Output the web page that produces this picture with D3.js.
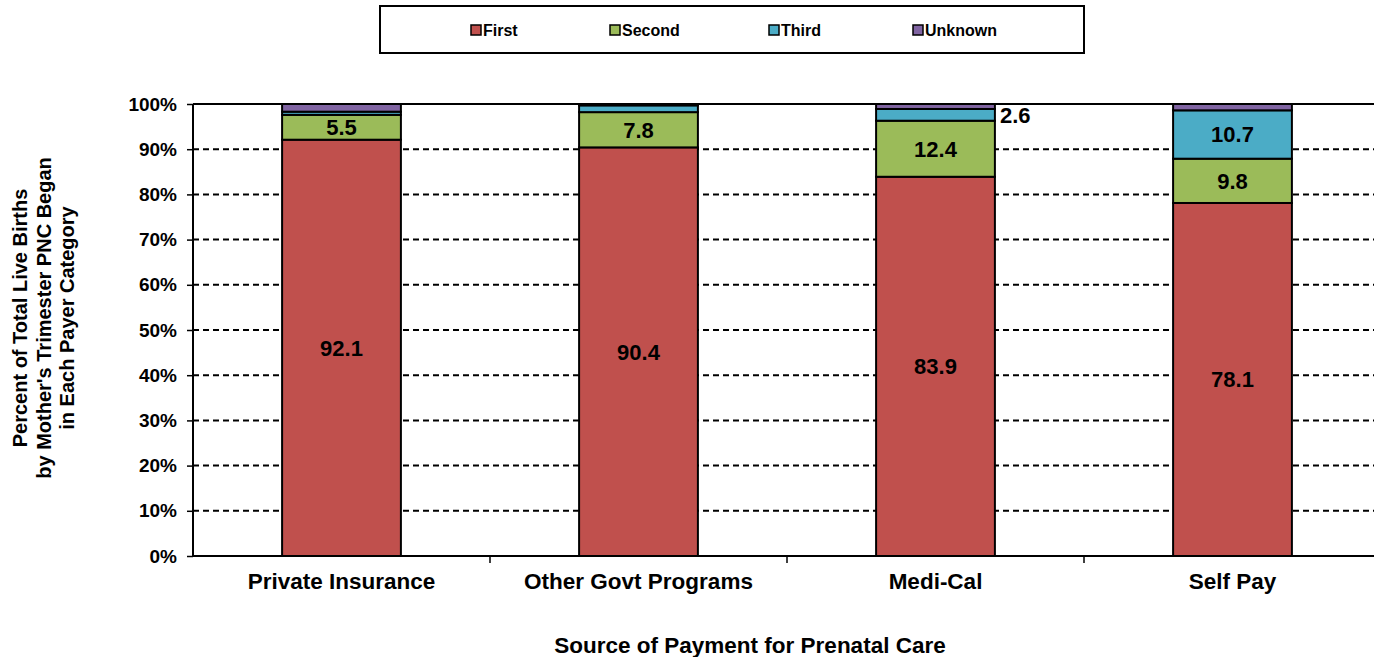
<!doctype html>
<html>
<head>
  <meta charset="utf-8">
  <title>Trimester PNC Began by Payer</title>
  <script src="https://cdn.jsdelivr.net/npm/d3@7"></script>
  <style>
    body { margin: 0; background: #fff; }
    text { font-family: "Liberation Sans", Arial, sans-serif; font-weight: bold; fill: #000; }
  </style>
</head>
<body>
<div class="chart"></div>
<script>
// data
var categories = ["Private Insurance", "Other Govt Programs", "Medi-Cal", "Self Pay"];
var seriesNames = ["First", "Second", "Third", "Unknown"];
var first   = [92.1, 90.4, 83.9, 78.1];
var second  = [5.5, 7.8, 12.4, 9.8];
var third   = [0.7, 1.5, 2.6, 10.7];
var unknown = [1.7, 0.3, 1.1, 1.4];
var yTicks = [0, 10, 20, 30, 40, 50, 60, 70, 80, 90, 100];
// which values get a printed label (1 = inside, 2 = beside the bar)
var labelled = { First: [1, 1, 1, 1], Second: [1, 1, 1, 1], Third: [0, 0, 2, 1], Unknown: [0, 0, 0, 0] };

var colors = ["#C0504D", "#9BBB59", "#4BACC6", "#8064A2"];

function draw() {
  var W = 1374, H = 657;
  var mLeft = 193, mRight = 1381, mTop = 104, mBottom = 556;

  var svg = d3.select(".chart").append("svg")
      .attr("width", W).attr("height", H);

  var rows = categories.map(function(c, i) {
    return { cat: c, First: first[i], Second: second[i], Third: third[i], Unknown: unknown[i] };
  });
  var stack = d3.stack().keys(seriesNames)(rows);

  var x = d3.scaleBand().domain(categories).range([mLeft, mRight]).paddingInner(0.6).paddingOuter(0.3);
  var band = d3.scaleBand().domain(categories).range([mLeft, mRight]);
  var y = d3.scaleLinear().domain([0, 100]).range([mBottom, mTop]);

  // gridlines
  svg.append("g").selectAll("line")
    .data(yTicks.filter(function(t) { return t > 0 && t < 100; }))
    .join("line")
    .attr("x1", mLeft).attr("x2", W)
    .attr("y1", function(d) { return y(d); }).attr("y2", function(d) { return y(d); })
    .attr("stroke", "#000").attr("stroke-width", 2).attr("stroke-dasharray", "6,4");
  svg.append("line")
    .attr("x1", mLeft).attr("x2", W).attr("y1", y(100)).attr("y2", y(100))
    .attr("stroke", "#000").attr("stroke-width", 2);

  // bars
  svg.append("g").selectAll("g")
    .data(stack).join("g")
    .attr("fill", function(d, i) { return colors[i]; })
    .selectAll("rect")
    .data(function(d) { return d; })
    .join("rect")
    .attr("x", function(d) { return x(d.data.cat); })
    .attr("width", x.bandwidth())
    .attr("y", function(d) { return y(d[1]); })
    .attr("height", function(d) { return y(d[0]) - y(d[1]); })
    .attr("stroke", "#000").attr("stroke-width", 2);

  // value labels
  stack.forEach(function(s) {
    s.forEach(function(d, i) {
      var mode = labelled[s.key][i];
      if (!mode) return;
      var val = d[1] - d[0];
      var cy = y((d[0] + d[1]) / 2);
      var t = svg.append("text")
        .attr("y", cy).attr("dy", "0.36em")
        .style("font-size", "22px")
        .text(val.toFixed(1));
      if (mode === 2) {
        t.attr("x", x(d.data.cat) + x.bandwidth() + 5).attr("text-anchor", "start");
      } else {
        t.attr("x", x(d.data.cat) + x.bandwidth() / 2).attr("text-anchor", "middle");
      }
    });
  });

  // y axis
  var yAxis = svg.append("g")
    .attr("transform", "translate(" + mLeft + ",0)")
    .call(d3.axisLeft(y).tickValues(yTicks).tickSize(6).tickPadding(10)
      .tickFormat(function(d) { return d + "%"; }));
  yAxis.select(".domain").attr("stroke-width", 2).attr("d", "M0," + mBottom + "V" + mTop);
  yAxis.selectAll(".tick line").attr("stroke-width", 1.5);
  yAxis.selectAll("text").attr("font-size", null).attr("font-family", null)
    .style("font-size", "19px");

  // x axis
  var xAxis = svg.append("g")
    .attr("transform", "translate(0," + mBottom + ")")
    .call(d3.axisBottom(band).tickSize(0).tickPadding(17));
  xAxis.select(".domain").attr("stroke-width", 2).attr("d", "M" + mLeft + ",0H" + W);
  xAxis.selectAll("text").attr("font-size", null).attr("font-family", null)
    .style("font-size", "22.5px");
  svg.append("g").selectAll("line")
    .data(categories.slice(1))
    .join("line")
    .attr("x1", function(d) { return band(d); }).attr("x2", function(d) { return band(d); })
    .attr("y1", mBottom).attr("y2", mBottom + 7)
    .attr("stroke", "#000").attr("stroke-width", 1.5);

  // axis titles
  svg.append("text")
    .attr("x", 750).attr("y", 645).attr("dy", "0.36em")
    .attr("text-anchor", "middle").style("font-size", "22.5px")
    .text("Source of Payment for Prenatal Care");

  var yTitle = ["Percent of Total Live Births", "by Mother's Trimester PNC Began", "in Each Payer Category"];
  svg.append("g").attr("transform", "translate(20,318) rotate(-90)")
    .selectAll("text").data(yTitle).join("text")
    .attr("x", 0).attr("y", function(d, i) { return i * 23.5; })
    .attr("dy", "0.36em").attr("text-anchor", "middle")
    .style("font-size", "20px")
    .text(function(d) { return d; });

  // legend
  var legend = svg.append("g");
  legend.append("rect")
    .attr("x", 380).attr("y", 6).attr("width", 704).attr("height", 47)
    .attr("fill", "#fff").attr("stroke", "#000").attr("stroke-width", 2);
  var legX = [471, 610, 769, 913];
  var items = legend.selectAll("g.item").data(seriesNames).join("g")
    .attr("class", "item")
    .attr("transform", function(d, i) { return "translate(" + legX[i] + ",30)"; });
  items.append("rect")
    .attr("x", 0).attr("y", -5).attr("width", 10).attr("height", 10)
    .attr("fill", function(d, i) { return colors[i]; })
    .attr("stroke", "#000").attr("stroke-width", 1.5);
  items.append("text")
    .attr("x", 12).attr("dy", "0.36em")
    .style("font-size", "16px")
    .text(function(d) { return d; });
}

draw();
</script>
</body>
</html>
